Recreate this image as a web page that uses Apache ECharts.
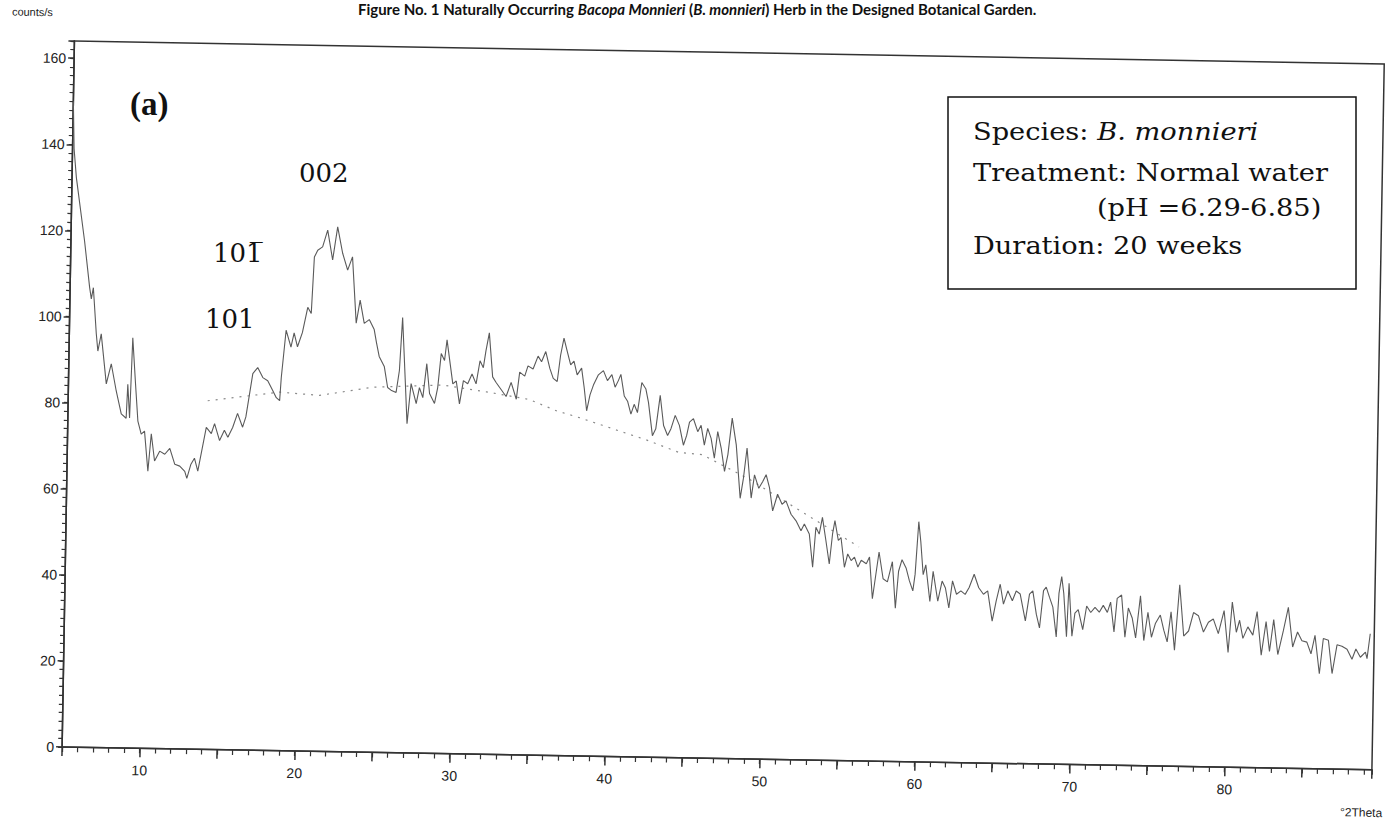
<!DOCTYPE html>
<html>
<head>
<meta charset="utf-8">
<script src="https://cdn.jsdelivr.net/npm/echarts@6/dist/echarts.min.js"></script>
<style>
html,body{margin:0;padding:0;background:#fff;}
#wrap{position:relative;width:1395px;height:829px;overflow:hidden;background:#fff;}
#bg,#plot{position:absolute;left:0;top:0;width:1395px;height:829px;}
#plot{transform:rotate(1deg);transform-origin:697.5px 414.5px;}
</style>
</head>
<body>
<div id="wrap"><div id="bg"></div><div id="plot"></div></div>
<script>
// ---- data ----
const twoTheta = [
5.00,5.10,5.28,5.88,6.26,6.38,6.50,6.74,6.86,7.06,7.44,7.74,8.09,8.44,8.76,8.83,8.98,9.10,9.33,9.52,
9.75,9.96,10.22,10.40,10.64,10.96,11.29,11.61,11.95,12.27,12.60,12.74,12.99,13.21,13.44,13.94,14.27,14.47,14.81,15.11,
15.34,15.64,15.94,16.28,16.48,16.88,17.19,17.53,17.85,18.19,18.42,18.64,18.72,18.98,19.31,19.50,19.73,20.03,20.35,20.58,
20.72,20.93,21.24,21.55,21.90,22.19,22.54,22.88,23.18,23.49,23.72,24.01,24.33,24.66,24.82,25.01,25.35,25.59,25.81,26.14,
26.33,26.48,26.73,26.88,27.10,27.45,27.64,27.87,28.09,28.30,28.63,28.82,29.01,29.23,29.37,29.60,29.79,30.01,30.24,30.47,
30.75,31.02,31.29,31.52,31.74,31.89,32.09,32.35,32.58,32.91,33.24,33.55,33.90,34.09,34.42,34.62,34.95,35.26,35.49,35.75,
36.03,36.26,36.52,36.71,36.91,37.13,37.37,37.58,37.80,38.08,38.27,38.45,38.65,38.86,39.17,39.49,39.76,40.04,40.26,40.47,
40.62,40.86,41.08,41.31,41.51,41.73,41.98,42.25,42.43,42.72,42.93,43.18,43.43,43.70,43.91,44.17,44.45,44.73,44.93,45.10,
45.35,45.64,45.85,46.08,46.28,46.51,46.74,46.93,47.17,47.41,47.61,47.85,48.14,48.45,48.64,48.84,49.16,49.35,49.64,49.89,
50.10,50.33,50.56,50.86,51.16,51.41,51.75,52.08,52.41,52.62,52.95,53.20,53.37,53.59,53.78,54.03,54.27,54.45,54.59,54.83,
55.00,55.25,55.45,55.68,55.89,56.12,56.33,56.66,56.86,57.09,57.47,57.76,58.04,58.34,58.58,58.75,58.96,59.23,59.46,59.69,
59.82,60.00,60.15,60.34,60.50,60.80,60.98,61.31,61.57,61.79,62.03,62.24,62.51,62.79,63.07,63.32,63.63,63.94,64.25,64.52,
64.84,65.08,65.32,65.55,65.82,66.12,66.36,66.62,66.98,67.22,67.43,67.68,67.90,68.12,68.29,68.51,68.74,68.99,69.12,69.28,
69.43,69.65,69.76,70.00,70.17,70.38,70.69,70.92,71.19,71.46,71.74,71.99,72.26,72.46,72.71,72.88,73.16,73.42,73.61,73.87,
74.11,74.38,74.64,74.88,75.13,75.37,75.68,75.92,76.15,76.37,76.63,76.90,77.21,77.52,77.82,78.14,78.48,78.79,79.10,79.44,
79.79,80.09,80.31,80.60,80.80,81.03,81.34,81.67,81.92,82.23,82.51,82.76,83.00,83.30,83.63,83.93,84.25,84.55,84.84,85.16,
85.44,85.68,86.00,86.22,86.55,86.82,87.11,87.43,87.76,88.09,88.33,88.63,88.95,89.06,89.24
];
const counts = [
150,139,132.3,117.6,106.8,104.2,106.8,96.1,92.1,96.1,84.5,89.2,82.9,77.6,76.6,84.5,76.7,95.3,84.5,76.0,
73.0,73.7,64.4,73.1,66.8,69.1,68.4,69.8,66.1,65.7,64.5,62.9,66.2,67.6,64.6,74.8,73.4,75.7,71.8,74.2,
72.6,74.9,78.2,75.0,77.4,87.5,88.9,86.6,85.9,83.6,82.0,81.3,86.7,97.7,93.8,97.1,93.9,97.2,103.1,101.7,
114.8,116.4,117.2,121.1,114.2,121.9,115.8,111.9,115.0,99.6,105.0,99.6,100.5,98.2,95.2,92.0,89.7,84.8,84.2,83.7,
88.8,101.1,85.8,76.5,85.8,81.2,84.9,82.6,90.5,83.6,81.3,85.0,92.9,91.3,96.1,90.5,85.9,86.6,81.3,86.7,
86.0,88.3,86.0,91.4,89.8,93.7,97.9,87.7,86.4,84.8,83.2,86.5,82.6,88.9,88.0,90.4,89.7,92.7,91.4,93.8,
89.9,87.6,86.9,93.0,97.0,94.0,90.8,91.7,88.5,90.1,85.5,80.2,83.9,86.2,88.6,89.6,87.3,88.7,85.8,87.4,
88.8,83.8,82.6,79.6,81.9,80.0,87.0,85.5,82.4,74.7,76.3,84.1,77.1,74.8,76.4,79.5,77.2,72.6,74.9,78.0,
78.8,75.8,77.3,72.7,76.6,74.3,69.7,75.9,72.1,66.7,70.6,79.1,72.9,60.5,65.2,72.2,60.6,66.0,62.9,64.5,
66.1,63.1,57.7,61.6,59.3,60.1,57.0,55.5,53.2,54.8,52.5,44.8,54.1,52.5,56.4,51.0,45.6,52.6,55.7,51.1,
51.8,44.9,48.0,46.5,47.3,45.0,46.6,45.8,47.4,37.7,48.6,42.4,41.7,46.4,35.6,44.2,46.9,45.0,42.0,39.7,
43.6,55.8,51.2,43.5,45.8,37.3,44.3,37.4,42.1,40.5,35.9,42.2,39.1,39.9,39.1,40.7,43.8,40.7,39.2,40.0,
33.0,37.7,41.6,37.0,40.1,37.8,40.1,39.4,33.2,39.4,40.2,34.8,31.6,40.3,41.1,38.8,36.5,29.6,39.7,43.6,
39.7,29.7,42.1,29.8,35.2,36.0,31.4,36.9,35.4,36.6,35.5,37.1,35.5,37.9,31.0,38.8,39.6,29.8,36.6,34.3,
29.7,39.5,29.1,35.7,29.9,33.1,35.1,31.6,28.9,35.9,27.0,42.2,30.3,31.5,35.8,35.1,31.3,33.6,34.4,31.0,
36.4,26.7,38.4,31.4,34.2,30.0,32.7,30.8,36.3,26.2,34.0,27.1,34.5,26.4,31.9,37.4,28.2,31.7,29.7,29.4,
26.7,31.0,22.1,30.3,29.9,22.2,28.9,28.6,27.9,25.6,28.0,26.1,27.3,25.8,31.6
];
// dotted amorphous background line
const bgTheta  = [14.0,18.63,21.21,24.61,29.12,31.96,34.74,36.49,37.98,39.48,42.32,44.46,45.95,49.00,52.45,56.17];
const bgCounts = [81.0,83.3,82.7,84.8,85.6,84.2,82.6,80.1,78.6,76.9,73.7,70.9,70.5,65.0,57.6,49.7];
// tick labels
const xLabels = [10,20,30,40,50,60,70,80];
const yLabels = [0,20,40,60,80,100,120,140,160];
// annotation texts
const titleParts = ['Figure No. 1 Naturally Occurring ','Bacopa Monnieri',' (','B. monnieri',') Herb in the Designed Botanical Garden.'];
const panelLabel = '(a)';
const peakLabels = ['002','101\u0305','101'];
const infoLines = ['Species: ','B. monnieri','Treatment: Normal water','(pH =6.29-6.85)','Duration: 20 weeks'];

// ---- background layer: title, annotations, info box ----
const bg = echarts.init(document.getElementById('bg'), null, {renderer:'svg'});
const serif = '"DejaVu Serif", serif';
const boxScale = 1.09;
bg.setOption({
  animation:false,
  backgroundColor:'#fff',
  graphic:[
    {type:'text', x:697, y:9, style:{
      text:'{b|'+titleParts[0]+'}{i|'+titleParts[1]+'}{b|'+titleParts[2]+'}{i|'+titleParts[3]+'}{b|'+titleParts[4]+'}',
      align:'center', verticalAlign:'middle',
      rich:{
        b:{font:'bold 15px Lato, "Liberation Sans", sans-serif', fill:'#111'},
        i:{font:'italic bold 15px Lato, "Liberation Sans", sans-serif', fill:'#111'}
      }}},
    {type:'text', x:130, y:104, style:{text:panelLabel, font:'bold 33px "Liberation Serif", serif', fill:'#111', align:'left', verticalAlign:'middle'}},
    {type:'text', x:299, y:173, style:{text:peakLabels[0], font:'26px '+serif, fill:'#111', align:'left', verticalAlign:'middle'}},
    {type:'text', x:213, y:253, style:{text:peakLabels[1], font:'26px '+serif, fill:'#111', align:'left', verticalAlign:'middle'}},
    {type:'text', x:205, y:319, style:{text:peakLabels[2], font:'26px '+serif, fill:'#111', align:'left', verticalAlign:'middle'}},
    {type:'rect', shape:{x:948, y:97, width:408, height:192}, style:{fill:'#fff', stroke:'#111', lineWidth:1.5}},
    {type:'text', x:973, y:131, scaleX:boxScale, style:{
      text:'{n|'+infoLines[0]+'}{i|'+infoLines[1]+'}', align:'left', verticalAlign:'middle',
      rich:{n:{font:'25px '+serif, fill:'#111'}, i:{font:'italic 25px '+serif, fill:'#111'}}}},
    {type:'text', x:973, y:172, scaleX:boxScale, style:{text:infoLines[2], font:'25px '+serif, fill:'#111', align:'left', verticalAlign:'middle'}},
    {type:'text', x:1097, y:207, scaleX:boxScale, style:{text:infoLines[3], font:'25px '+serif, fill:'#111', align:'left', verticalAlign:'middle'}},
    {type:'text', x:973, y:245, scaleX:boxScale, style:{text:infoLines[4], font:'25px '+serif, fill:'#111', align:'left', verticalAlign:'middle'}}
  ]
});

// ---- plot layer (slightly rotated, as in the scan) ----
const plot = echarts.init(document.getElementById('plot'), null, {renderer:'svg'});
const sans = '"Liberation Sans", Arial, sans-serif';
const axisColor = '#333';
plot.setOption({
  animation:false,
  backgroundColor:'transparent',
  grid:{left:68, right:17, top:52, bottom:71, show:true, borderColor:axisColor, borderWidth:1.5, backgroundColor:'transparent'},
  xAxis:[
    {type:'value', position:'bottom', min:5, max:89.5, interval:5,
     name:'°2Theta', nameLocation:'end', nameGap:11,
     nameTextStyle:{fontFamily:sans, fontSize:12, color:'#222', align:'right', verticalAlign:'top', padding:[37,0,0,0]},
     axisLine:{onZero:false, lineStyle:{color:axisColor, width:1.5}},
     axisTick:{show:true, inside:false, length:9, lineStyle:{color:axisColor, width:1.5}},
     axisLabel:{margin:15, fontFamily:sans, fontSize:14, color:'#222',
       formatter:v => xLabels.includes(Math.round(v*100)/100) ? String(v) : ''},
     splitLine:{show:false}},
    {type:'value', position:'bottom', min:5, max:89.5, interval:1, offset:0,
     axisLine:{show:false},
     axisTick:{show:true, inside:false, length:5, lineStyle:{color:axisColor, width:1.2}},
     axisLabel:{show:false}, splitLine:{show:false}}
  ],
  yAxis:[
    {type:'value', position:'left', min:0, max:164, interval:20,
     name:'counts/s', nameLocation:'end', nameGap:23,
     nameTextStyle:{fontFamily:sans, fontSize:11, color:'#222', align:'right', verticalAlign:'bottom', padding:[0,22,0,0]},
     axisLine:{show:true, onZero:false, lineStyle:{color:axisColor, width:1.5}},
     axisTick:{show:true, inside:false, length:6, lineStyle:{color:axisColor, width:1.5}},
     axisLabel:{margin:8, fontFamily:sans, fontSize:14, color:'#222',
       formatter:v => yLabels.includes(Math.round(v*100)/100) ? String(v) : ''},
     splitLine:{show:false}},
    {type:'value', position:'left', min:0, max:164, interval:2, offset:0,
     axisLine:{show:false},
     axisTick:{show:true, inside:false, length:4, lineStyle:{color:axisColor, width:1.2}},
     axisLabel:{show:false}, splitLine:{show:false}}
  ],
  series:[
    {type:'line', xAxisIndex:0, yAxisIndex:0, symbol:'none', z:3,
     data: twoTheta.map((t,i) => [t, counts[i]]),
     lineStyle:{color:'#5a5a5a', width:1.1}},
    {type:'line', xAxisIndex:0, yAxisIndex:0, symbol:'none', z:2,
     data: bgTheta.map((t,i) => [t, bgCounts[i]]),
     lineStyle:{color:'#8a8a8a', width:1.2, type:[2,6]}}
  ]
});
</script>
</body>
</html>
